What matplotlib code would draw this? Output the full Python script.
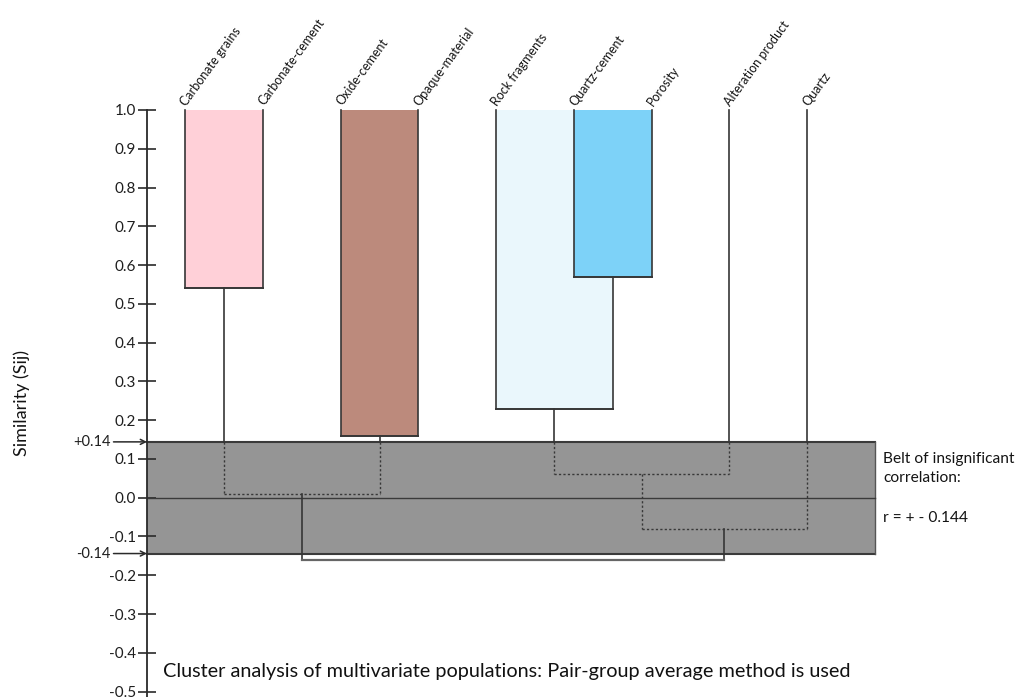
import matplotlib
matplotlib.use("Agg")
import matplotlib.pyplot as plt
from matplotlib.patches import Rectangle

plt.rcParams["font.family"] = ["Lato", "DejaVu Sans"]
plt.rcParams["axes.unicode_minus"] = False

# Leaves of the dendrogram, left to right
leaves = ["Carbonate grains", "Carbonate-cement", "Oxide-cement", "Opaque-material",
          "Rock fragments", "Quartz-cement", "Porosity", "Alteration product", "Quartz"]

# Pair-group merges: (left child, right child, similarity); children < 9 are leaves,
# children >= 9 refer to earlier merges (9 + merge index)
merge_left = [0, 2, 5, 4, 9, 12, 14, 13]
merge_right = [1, 3, 6, 11, 10, 7, 8, 15]
merge_height = [0.54, 0.16, 0.57, 0.23, 0.01, 0.06, -0.08, -0.16]
merge_fill = ["#FFD0D8", "#BC8A7C", "#7DD2F8", "#EAF7FC", None, None, None, None]

belt_r = 0.144
ytick_values = [1.0, 0.9, 0.8, 0.7, 0.6, 0.5, 0.4, 0.3, 0.2, 0.1, 0.0, -0.1, -0.2, -0.3, -0.4, -0.5]

W, H = 1016, 697
fig = plt.figure(figsize=(W / 100, H / 100), dpi=100)
ax = fig.add_axes([0, 0, 1, 1])
ax.set_xlim(-2.385, 10.691)
ax.set_ylim(-0.514, 1.2837)

axis_x = -0.493
belt_right = 8.876
line_col = "#363636"
dot_col = "#383838"

# y axis drawn as a single spine at the left edge of the belt
for s in ["top", "right", "bottom"]:
    ax.spines[s].set_visible(False)
ax.spines["left"].set_position(("data", axis_x))
ax.spines["left"].set_bounds(-0.53, 1.0)
ax.spines["left"].set_color("#2a2a2a")
ax.spines["left"].set_linewidth(1.3)
ax.set_xticks([])
ax.set_yticks(ytick_values)
ax.set_yticklabels([f"{v:.1f}" for v in ytick_values])
ax.tick_params(axis="y", direction="inout", length=13, width=1.2, color="#2a2a2a",
               pad=1.5, labelsize=11, labelcolor="#1e1e1e")
ax.patch.set_alpha(0)

# belt of insignificant correlation
ax.add_patch(Rectangle((axis_x, -belt_r), belt_right - axis_x, 2 * belt_r,
                       facecolor="#959595", edgecolor="none", zorder=1))
ax.plot([axis_x, belt_right], [belt_r, belt_r], color="#3a3a3a", lw=1.5, zorder=2)
ax.plot([axis_x, belt_right], [-belt_r, -belt_r], color="#3a3a3a", lw=1.5, zorder=2)
ax.plot([belt_right, belt_right], [-belt_r, belt_r], color="#555555", lw=1.0, zorder=2)
ax.plot([axis_x, belt_right], [0, 0], color="#3a3a3a", lw=1.0, zorder=2)

# node positions and heights
pos = {i: float(i) for i in range(len(leaves))}
hgt = {i: 1.0 for i in range(len(leaves))}
n = len(leaves)
for k, (a, b, h) in enumerate(zip(merge_left, merge_right, merge_height)):
    pos[n + k] = (pos[a] + pos[b]) / 2
    hgt[n + k] = h

# filled cluster boxes, larger (lower) clusters first so nested ones stay on top
order = sorted(range(len(merge_height)), key=lambda k: merge_height[k])
for k in order:
    c = merge_fill[k]
    if c is None:
        continue
    a, b, h = merge_left[k], merge_right[k], merge_height[k]
    ax.add_patch(Rectangle((pos[a], h), pos[b] - pos[a], 1.0 - h,
                           facecolor=c, edgecolor="none", zorder=3))


def vseg(x, y0, y1, solid):
    """Vertical segment from y0 down to y1, dotted inside the belt unless solid."""
    top, bot = max(y0, y1), min(y0, y1)
    if solid:
        ax.plot([x, x], [top, bot], color=line_col, lw=1.2, zorder=4)
        return
    if top > belt_r:
        ax.plot([x, x], [top, max(bot, belt_r)], color=line_col, lw=1.2, zorder=4)
    if bot < belt_r:
        ax.plot([x, x], [min(top, belt_r), bot], color=dot_col, lw=1.0,
                ls=(0, (1.6, 1.6)), zorder=4)


last = len(merge_height) - 1
for k, (a, b, h) in enumerate(zip(merge_left, merge_right, merge_height)):
    root = k == last
    vseg(pos[a], hgt[a], h, root)
    vseg(pos[b], hgt[b], h, root)
    if root:
        ax.plot([pos[a], pos[b]], [h, h], color="#666666", lw=1.6, zorder=4)
    elif h > belt_r:
        ax.plot([pos[a], pos[b]], [h, h], color=line_col, lw=1.4, zorder=4)
    else:
        ax.plot([pos[a], pos[b]], [h, h], color=dot_col, lw=1.0,
                ls=(0, (1.6, 1.6)), zorder=4)

# leaf labels
for i, name in enumerate(leaves):
    ax.text(pos[i] + 0.04, 1.006, name, rotation=54, rotation_mode="anchor",
            ha="left", va="bottom", fontsize=9, color="#141414")

# belt limit markers on the axis
for v, lab in [(belt_r, "+0.14"), (-belt_r, "-0.14")]:
    ax.annotate(lab, xy=(axis_x, v), xytext=(-0.96, v), textcoords="data",
                ha="right", va="center", fontsize=10.5, color="#1e1e1e",
                arrowprops=dict(arrowstyle="->", color="#2a2a2a", lw=1.1,
                                shrinkA=0, shrinkB=0, mutation_scale=9))

fig.text(883 / W, 1 - 459 / H, "Belt of insignificant", fontsize=11.2, va="center",
         ha="left", color="#141414")
fig.text(883 / W, 1 - 478 / H, "correlation:", fontsize=11.2, va="center",
         ha="left", color="#141414")
fig.text(883 / W, 1 - 518 / H, "r = + - 0.144", fontsize=11.2, va="center",
         ha="left", color="#141414")

fig.text(22 / W, 1 - 403 / H, "Similarity (Sij)", rotation=90, fontsize=13,
         va="center", ha="center", color="#141414")
fig.text(163 / W, 1 - 672 / H,
         "Cluster analysis of multivariate populations: Pair-group average method is used",
         fontsize=14.3, va="center", ha="left", color="#111111")

fig.savefig("out.png", dpi=100, facecolor="white")
